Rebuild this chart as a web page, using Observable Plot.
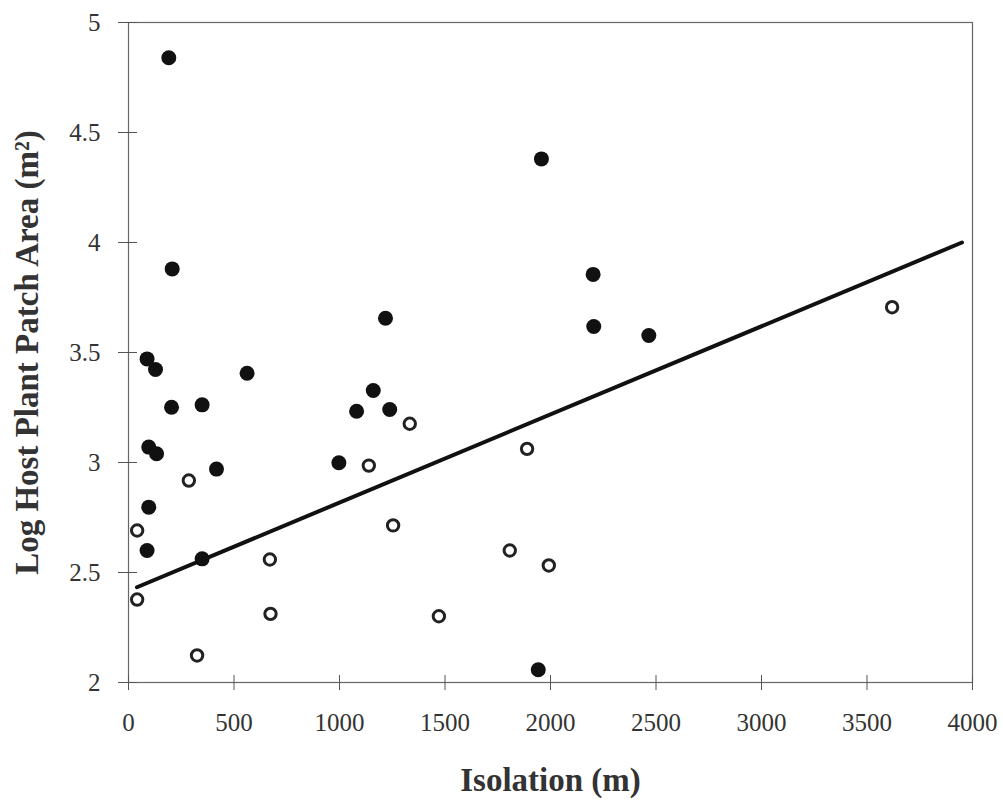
<!DOCTYPE html>
<html><head><meta charset="utf-8">
<script src="https://cdn.jsdelivr.net/npm/d3@7"></script>
<script src="https://cdn.jsdelivr.net/npm/@observablehq/plot@0.6"></script>
<style>
html,body{margin:0;padding:0;background:#fff;}
#chart svg{display:block;}
g[aria-label="x-axis label"] text, g[aria-label="y-axis label"] text {font-size:33px;font-weight:bold;fill:#333;}
</style></head><body><div id="chart"></div>
<script>
// Patches with (filled) and without (open) the species
const filledX = [191, 1957, 207, 2202, 1218, 2205, 2466, 88, 128, 562, 1160, 349, 204, 1238, 1081, 96, 133, 997, 417, 96, 88, 349, 1942];
const filledY = [4.84, 4.38, 3.88, 3.855, 3.656, 3.618, 3.577, 3.471, 3.423, 3.406, 3.327, 3.262, 3.251, 3.241, 3.233, 3.070, 3.040, 2.999, 2.970, 2.797, 2.600, 2.562, 2.058];
const openX = [3619, 1333, 1889, 1139, 286, 1254, 41, 1807, 670, 1992, 41, 673, 1471, 325];
const openY = [3.706, 3.176, 3.062, 2.986, 2.918, 2.714, 2.691, 2.600, 2.559, 2.532, 2.377, 2.312, 2.301, 2.123];
// Regression line end points
const fitX = [40, 3950];
const fitY = [2.433, 4.0];
// Tick labels
const xTicks = [0, 500, 1000, 1500, 2000, 2500, 3000, 3500, 4000];
const yTicks = [2, 2.5, 3, 3.5, 4, 4.5, 5];

const filled = filledX.map((x, i) => ({x, y: filledY[i]}));
const open = openX.map((x, i) => ({x, y: openY[i]}));
const fit = fitX.map((x, i) => ({x, y: fitY[i]}));

const chart = Plot.plot({
  width: 1003, height: 800,
  marginLeft: 128, marginRight: 31, marginTop: 22, marginBottom: 118,
  style: {fontFamily: "'Liberation Serif', serif", fontSize: "25px", color: "#333", background: "#fff"},
  x: {domain: [0, 4000]},
  y: {domain: [2, 5]},
  marks: [
    Plot.frame({stroke: "#666", strokeWidth: 1.2}),
    Plot.axisX(xTicks, {tickSize: 15, dy: -7, tickFormat: () => "", stroke: "#555", label: null}),
    Plot.axisX(xTicks, {tickSize: 0, tickPadding: 31, tickFormat: d => String(d), fill: "#333",
      label: "Isolation (m)", labelAnchor: "center", labelArrow: false, labelOffset: 108}),
    Plot.axisY(yTicks, {tickSize: 19, dx: 9, tickFormat: () => "", stroke: "#555", label: null}),
    Plot.axisY(yTicks, {tickSize: 0, tickPadding: 28, tickFormat: d => String(d), fill: "#333",
      label: "Log Host Plant Patch Area (m²)", labelAnchor: "center", labelArrow: false, labelOffset: 114}),
    Plot.line(fit, {x: "x", y: "y", stroke: "#111", strokeWidth: 4}),
    Plot.dot(open, {x: "x", y: "y", r: 5.7, fill: "#fff", stroke: "#222", strokeWidth: 3}),
    Plot.dot(filled, {x: "x", y: "y", r: 7.5, fill: "#111", stroke: "none"})
  ]
});
document.getElementById("chart").appendChild(chart);
</script></body></html>
